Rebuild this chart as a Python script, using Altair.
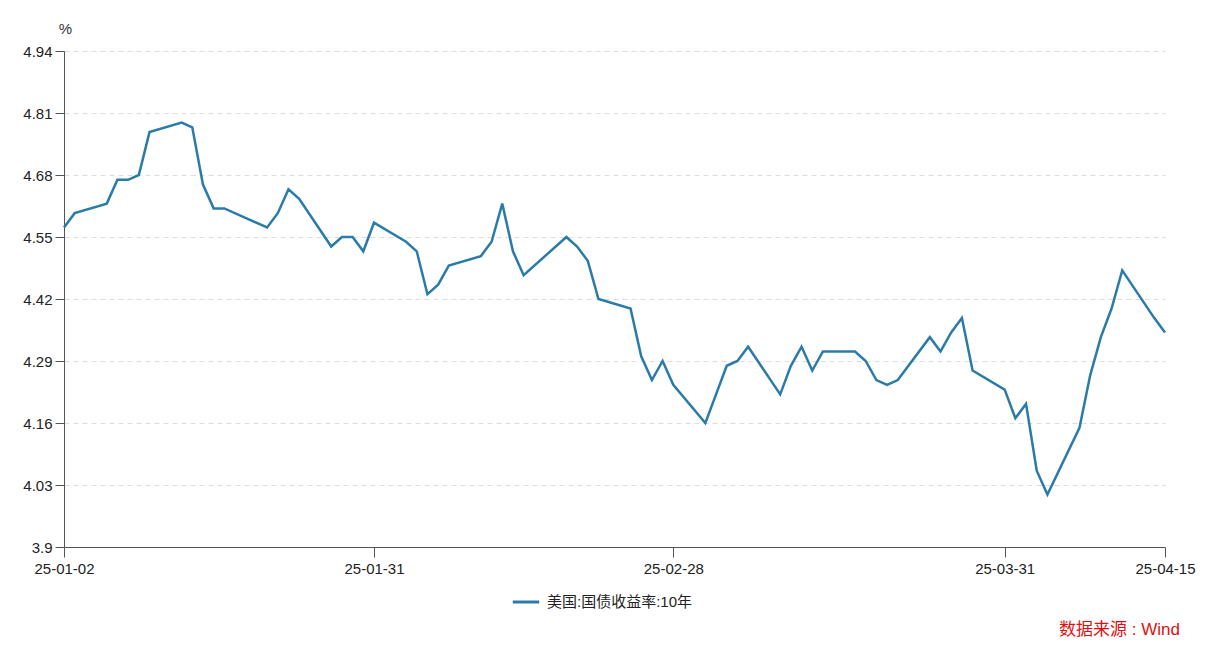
import altair as alt
import pandas as pd

FONT = "Liberation Sans, Helvetica, Arial, Noto Sans CJK SC"

dates = [
    "2025-01-02", "2025-01-03", "2025-01-06", "2025-01-07", "2025-01-08", "2025-01-09",
    "2025-01-10", "2025-01-13", "2025-01-14", "2025-01-15", "2025-01-16", "2025-01-17",
    "2025-01-21", "2025-01-22", "2025-01-23", "2025-01-24", "2025-01-27", "2025-01-28",
    "2025-01-29", "2025-01-30", "2025-01-31",
    "2025-02-03", "2025-02-04", "2025-02-05", "2025-02-06", "2025-02-07", "2025-02-10",
    "2025-02-11", "2025-02-12", "2025-02-13", "2025-02-14", "2025-02-18", "2025-02-19",
    "2025-02-20", "2025-02-21", "2025-02-24", "2025-02-25", "2025-02-26", "2025-02-27",
    "2025-02-28",
    "2025-03-03", "2025-03-04", "2025-03-05", "2025-03-06", "2025-03-07", "2025-03-10",
    "2025-03-11", "2025-03-12", "2025-03-13", "2025-03-14", "2025-03-17", "2025-03-18",
    "2025-03-19", "2025-03-20", "2025-03-21", "2025-03-24", "2025-03-25", "2025-03-26",
    "2025-03-27", "2025-03-28", "2025-03-31",
    "2025-04-01", "2025-04-02", "2025-04-03", "2025-04-04", "2025-04-07", "2025-04-08",
    "2025-04-09", "2025-04-10", "2025-04-11", "2025-04-14", "2025-04-15",
]
values = [
    4.57, 4.60, 4.62, 4.67, 4.67, 4.68,
    4.77, 4.79, 4.78, 4.66, 4.61, 4.61,
    4.57, 4.60, 4.65, 4.63, 4.53, 4.55,
    4.55, 4.52, 4.58,
    4.54, 4.52, 4.43, 4.45, 4.49, 4.51,
    4.54, 4.62, 4.52, 4.47, 4.55, 4.53,
    4.50, 4.42, 4.40, 4.30, 4.25, 4.29,
    4.24,
    4.16, 4.22, 4.28, 4.29, 4.32, 4.22,
    4.28, 4.32, 4.27, 4.31, 4.31, 4.29,
    4.25, 4.24, 4.25, 4.34, 4.31, 4.35,
    4.38, 4.27, 4.23,
    4.17, 4.20, 4.06, 4.01, 4.15, 4.26,
    4.34, 4.40, 4.48, 4.38, 4.35,
]
series_name = "美国:国债收益率:10年"
y_ticks = [3.9, 4.03, 4.16, 4.29, 4.42, 4.55, 4.68, 4.81, 4.94]
x_ticks = ["2025-01-02", "2025-01-31", "2025-02-28", "2025-03-31", "2025-04-15"]
y_unit = "%"
source_text = "数据来源 : Wind"


def to_dt(s):
    return alt.DateTime(year=int(s[:4]), month=int(s[5:7]), date=int(s[8:10]), utc=True)


df = pd.DataFrame({"date": dates, "value": values, "series": [series_name] * len(dates)})

line = alt.Chart(df).mark_line(strokeWidth=2.5).encode(
    x=alt.X(
        "date:T",
        scale=alt.Scale(type="utc", domain=[to_dt(x_ticks[0]), to_dt(x_ticks[-1])], nice=False),
        axis=alt.Axis(
            values=[to_dt(s) for s in x_ticks],
            labelExpr="utcFormat(datum.value, '%y-%m-%d')",
            title=None,
            grid=False,
            tickSize=10,
            labelPadding=4,
            labelFontSize=15,
            labelFont=FONT,
            labelColor="#222",
            labelFlush=False,
            labelOverlap=False,
            domainColor="#555",
            tickColor="#555",
        ),
    ),
    y=alt.Y(
        "value:Q",
        scale=alt.Scale(domain=[y_ticks[0], y_ticks[-1]], nice=False, zero=False),
        axis=alt.Axis(
            values=y_ticks,
            format=".3~g",
            title=y_unit,
            titleAngle=0,
            titleX=1,
            titleY=-23,
            titleAlign="center",
            titleBaseline="middle",
            titleFontWeight="normal",
            titleFontSize=15,
            titleFont=FONT,
            titleColor="#333",
            grid=True,
            gridDash=[5, 4],
            gridColor="#dddddd",
            tickSize=9,
            labelPadding=3,
            labelFontSize=15,
            labelFont=FONT,
            labelColor="#222",
            domainColor="#555",
            tickColor="#555",
        ),
    ),
    color=alt.Color(
        "series:N",
        scale=alt.Scale(domain=[series_name], range=["#2b7ba8"]),
        legend=alt.Legend(
            orient="none",
            legendX=447,
            legendY=536,
            title=None,
            symbolType="stroke",
            symbolSize=700,
            symbolStrokeWidth=3,
            labelFontSize=15,
            labelFont=FONT,
            labelColor="#222",
            labelOffset=6,
            padding=0,
        ),
    ),
)

src = alt.Chart(pd.DataFrame({"t": [source_text]})).mark_text(
    align="right", baseline="alphabetic", fontSize=17, color="#dd1111", font=FONT
).encode(text="t:N", x=alt.value(1116), y=alt.value(584))

chart = (
    alt.layer(line, src)
    .properties(
        width=1101,
        height=496,
        padding={"left": 56, "top": 43, "right": 40, "bottom": 100},
        autosize=alt.AutoSizeParams(type="none"),
    )
    .configure_view(stroke=None)
)

chart.save("out.html", embed_options={"renderer": "svg", "actions": False})
